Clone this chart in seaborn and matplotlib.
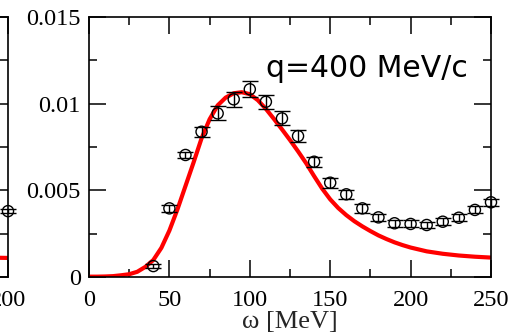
import numpy as np
import pandas as pd
import matplotlib
matplotlib.use("Agg")
import matplotlib.pyplot as plt
from matplotlib.ticker import MultipleLocator, FixedLocator, FixedFormatter
import seaborn as sns

# Measured response at q = 400 MeV/c (data points with errors)
omega_data = [40, 50, 60, 70, 80, 90, 100, 110, 120, 130, 140, 150, 160,
              170, 180, 190, 200, 210, 220, 230, 240, 250]
resp_data = [0.00063, 0.00396, 0.00704, 0.00838, 0.00944, 0.01025, 0.01083,
             0.01011, 0.00915, 0.00813, 0.00665, 0.00544, 0.00477, 0.00396,
             0.00344, 0.00310, 0.00306, 0.00300, 0.00319, 0.00342, 0.00387,
             0.00431]
resp_err = [0.00010, 0.00020, 0.00020, 0.00030, 0.00040, 0.00045, 0.00045,
            0.00040, 0.00040, 0.00035, 0.00030, 0.00030, 0.00025, 0.00025,
            0.00020, 0.00020, 0.00020, 0.00020, 0.00020, 0.00020, 0.00020,
            0.00020]

# Calculated response (solid red curve)
omega_calc = [0, 5, 10, 15, 20, 25, 30, 35, 40, 45, 50, 55, 60, 65, 70, 75,
              80, 85, 90, 95, 100, 105, 110, 115, 120, 125, 130, 135, 140,
              145, 150, 155, 160, 165, 170, 175, 180, 185, 190, 195, 200,
              210, 220, 230, 240, 250]
resp_calc = [0.00002, 0.00002, 0.00003, 0.00005, 0.00010, 0.00016, 0.00030,
             0.00058, 0.00098, 0.00168, 0.00268, 0.00390, 0.00525, 0.00660,
             0.00800, 0.00910, 0.00990, 0.01035, 0.01060, 0.01066, 0.01055,
             0.01020, 0.00970, 0.00912, 0.00852, 0.00790, 0.00725, 0.00657,
             0.00582, 0.00510, 0.00448, 0.00398, 0.00357, 0.00322, 0.00292,
             0.00265, 0.00240, 0.00219, 0.00200, 0.00184, 0.00170, 0.00148,
             0.00134, 0.00124, 0.00117, 0.00112]

# Neighbouring panel (only its right end falls inside the figure)
omega_left_data = [200]
resp_left_data = [0.0038]
resp_left_err = [0.0001]
omega_left_calc = [190, 195, 200]
resp_left_calc = [0.00112, 0.00111, 0.00110]

ytick_vals = [0, 0.005, 0.01, 0.015]
ytick_text = ["0", "0.005", "0.01", "0.015"]
xtick_vals = [0, 50, 100, 150, 200, 250]

sns.set_style("ticks")
plt.rcParams["font.family"] = ["Liberation Serif", "DejaVu Serif"]

W, H = 511, 333
fig = plt.figure(figsize=(W / 100, H / 100), dpi=100)
ax_w = 402 / W
ax_h = 260 / H
ax_b = 56 / H
ax = fig.add_axes([89 / W, ax_b, ax_w, ax_h])
axl = fig.add_axes([(8 - 402) / W, ax_b, ax_w, ax_h])

TICK_FS = 17.5


def style_axes(a, xmax, xticks):
    a.set_xlim(0, xmax)
    a.set_ylim(0, 0.015)
    a.xaxis.set_major_locator(FixedLocator(xticks))
    a.xaxis.set_minor_locator(MultipleLocator(25))
    a.yaxis.set_major_locator(FixedLocator(ytick_vals))
    a.yaxis.set_major_formatter(FixedFormatter(ytick_text))
    a.yaxis.set_minor_locator(MultipleLocator(0.0025))
    a.tick_params(which="both", direction="in", top=True, right=True,
                  width=1.1, colors="black", labelsize=TICK_FS)
    a.tick_params(which="major", length=12)
    a.tick_params(which="minor", length=6)
    a.tick_params(axis="x", which="major", pad=9)
    a.tick_params(axis="y", which="major", pad=6)
    for s in a.spines.values():
        s.set_linewidth(1.2)
        s.set_color("black")
    a.set_facecolor("none")


def draw_panel(a, xd, yd, ed, xc, yc):
    sns.lineplot(x=xc, y=yc, ax=a, color="red", linewidth=3,
                 estimator=None, sort=False, zorder=2)
    a.errorbar(xd, yd, yerr=ed, fmt="none", ecolor="black", elinewidth=1,
               capsize=5.8, capthick=1, clip_on=False, zorder=3)
    sns.scatterplot(x=xd, y=yd, ax=a, marker="o", s=64, color="black",
                    facecolor="none", edgecolor="black", linewidth=1,
                    clip_on=False, zorder=4)


style_axes(ax, 250, xtick_vals)
draw_panel(ax, omega_data, resp_data, resp_err, omega_calc, resp_calc)

style_axes(axl, 200, [0, 50, 100, 150, 200])
draw_panel(axl, omega_left_data, resp_left_data, resp_left_err,
           omega_left_calc, resp_left_calc)

ax.set_xlabel("ω [MeV]", fontsize=19, labelpad=0)
ax.set_ylabel("")
axl.set_xlabel("")
axl.set_ylabel("")

ax.text(235.5, 0.01152, "q=400 MeV/c", ha="right", va="baseline",
        fontsize=21.5, family=["DejaVu Sans"], color="black")

fig.savefig("out.png", dpi=100)
